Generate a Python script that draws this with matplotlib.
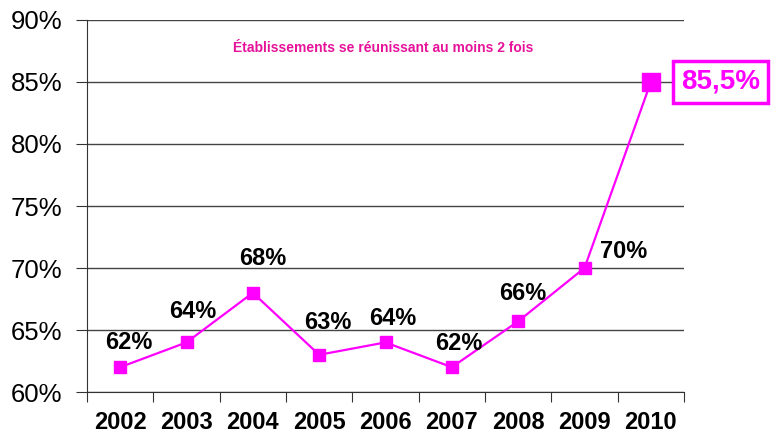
import numpy as np
import matplotlib.pyplot as plt

plt.rcParams['font.family'] = ['Liberation Sans', 'DejaVu Sans']

years = ['2002', '2003', '2004', '2005', '2006', '2007', '2008', '2009', '2010']
values = [62, 64, 68, 63, 64, 62, 65.7, 70, 85]
labels = ['62%', '64%', '68%', '63%', '64%', '62%', '66%', '70%', '85,5%']
title = 'Établissements se réunissant au moins 2 fois'

magenta = '#FF00FF'
x = np.arange(len(years)) + 0.5

fig = plt.figure(figsize=(7.76, 4.41), dpi=100)
ax = fig.add_axes([87 / 776, 1 - 392 / 441, (684 - 87) / 776, (392 - 20) / 441])

# grid lines
for v in range(60, 91, 5):
    ax.axhline(v, color='#444444', lw=1, zorder=1)

ax.plot(x[:-1], values[:-1], color=magenta, lw=1.6, marker='s', ms=9, zorder=3)
ax.plot(x[-2:], values[-2:], color=magenta, lw=1.6, zorder=3)
ax.plot(x[-1], values[-1], color=magenta, marker='s', ms=13, zorder=4)

# data labels (offsets in points)
offs = [(6, 18), (4.5, 22), (7, 24.5), (6, 23), (5, 17.5), (5, 17), (3, 20), (28, 12)]
for xi, v, lab, (dx, dy) in zip(x[:-1], values[:-1], labels[:-1], offs):
    ax.annotate(lab, (xi, v), xytext=(dx, dy), textcoords='offset points',
                ha='center', va='center', fontsize=17, fontweight='bold', color='black')
ax.annotate(labels[-1], (x[-1], values[-1]), xytext=(50, 0), textcoords='offset points',
            ha='center', va='center', fontsize=20, fontweight='bold', color=magenta,
            bbox=dict(boxstyle='square,pad=0.28', fc='white', ec=magenta, lw=2.5),
            annotation_clip=False)

ax.text(0.496, 0.925, title, transform=ax.transAxes, ha='center', va='center',
        fontsize=10, fontweight='bold', color='#E6129A')

ax.set_xlim(0, 9)
ax.set_ylim(60, 90)
ax.set_yticks(range(60, 91, 5))
ax.set_yticklabels([f'{v}%' for v in range(60, 91, 5)], fontsize=18.5)
ax.set_xticks(range(10))
ax.set_xticklabels([])
ax.set_xticks(x, minor=True)
ax.set_xticklabels(years, minor=True, fontsize=17, fontweight='bold')
ax.tick_params(axis='x', which='major', length=7, color='#333333', direction='out')
ax.tick_params(axis='x', which='minor', length=0, pad=14)
ax.tick_params(axis='y', length=8, color='#333333', pad=10)

for s in ['top', 'right']:
    ax.spines[s].set_visible(False)
ax.spines['left'].set_color('#333333')
ax.spines['bottom'].set_color('#333333')

fig.savefig('out.png', dpi=100)
